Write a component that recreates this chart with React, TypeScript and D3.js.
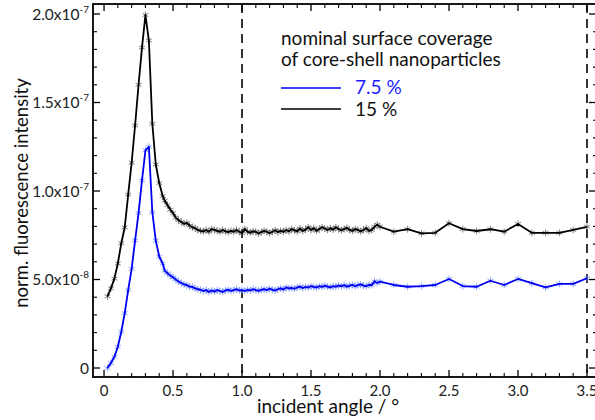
import React from "react";
import * as d3 from "d3";

// incident angles (degrees)
const earlyAngles = [0.025, 0.05, 0.075, 0.1, 0.125, 0.15, 0.175, 0.2, 0.225, 0.25, 0.275, 0.3, 0.325, 0.35, 0.375, 0.4, 0.425];
const denseAngles = [
  0.44, 0.46, 0.48, 0.5, 0.52, 0.54, 0.56, 0.58, 0.6, 0.62, 0.64, 0.66, 0.68, 0.7, 0.72, 0.74, 0.76, 0.78, 0.8, 0.82,
  0.84, 0.86, 0.88, 0.9, 0.92, 0.94, 0.96, 0.98, 1.0, 1.02, 1.04, 1.06, 1.08, 1.1, 1.12, 1.14, 1.16, 1.18, 1.2, 1.22,
  1.24, 1.26, 1.28, 1.3, 1.32, 1.34, 1.36, 1.38, 1.4, 1.42, 1.44, 1.46, 1.48, 1.5, 1.52, 1.54, 1.56, 1.58, 1.6, 1.62,
  1.64, 1.66, 1.68, 1.7, 1.72, 1.74, 1.76, 1.78, 1.8, 1.82, 1.84, 1.86, 1.88, 1.9, 1.92, 1.94, 1.96, 1.98,
];
const sparseAngles = [2.0, 2.1, 2.2, 2.3, 2.4, 2.5, 2.6, 2.7, 2.8, 2.9, 3.0, 3.1, 3.2, 3.3, 3.4, 3.5];

// intensities in units of 1e-8
const black15Early = [4.05, 4.5, 5.05, 5.9, 7.05, 7.95, 9.8, 11.6, 13.7, 16.0, 18.1, 19.95, 18.5, 13.8, 11.5, 10.45, 9.72];
const black15Dense = [
  9.45, 9.2, 8.95, 8.75, 8.5, 8.35, 8.25, 8.15, 8.2, 8.05, 7.95, 7.9, 7.8, 7.75, 7.72, 7.8, 7.7, 7.85, 7.8, 7.75,
  7.7, 7.8, 7.72, 7.68, 7.75, 7.7, 7.8, 7.7, 7.62, 7.85, 7.7, 7.65, 7.72, 7.7, 7.6, 7.68, 7.75, 7.7, 7.62, 7.7,
  7.78, 7.68, 7.75, 7.7, 7.8, 7.72, 7.85, 7.78, 7.72, 7.88, 7.75, 7.82, 7.95, 7.8, 7.9, 7.75, 7.85, 7.95, 7.88, 7.8,
  7.9, 7.82, 7.95, 7.85, 7.78, 7.85, 7.92, 7.8, 7.75, 7.85, 7.8, 7.72, 7.8, 7.9, 7.75, 7.8, 7.98, 8.1,
];
const black15Sparse = [7.98, 7.7, 7.84, 7.61, 7.64, 8.18, 7.85, 7.74, 7.84, 7.7, 8.14, 7.64, 7.64, 7.64, 7.8, 7.98];

const blue75Early = [0.0, 0.28, 0.64, 1.2, 2.05, 3.1, 4.4, 5.6, 7.2, 8.75, 10.6, 12.3, 12.5, 8.8, 7.2, 6.3, 5.9];
const blue75Dense = [
  5.5, 5.35, 5.22, 5.12, 5.0, 4.88, 4.8, 4.72, 4.68, 4.6, 4.58, 4.5, 4.45, 4.42, 4.35, 4.4, 4.3, 4.38, 4.32, 4.4,
  4.35, 4.3, 4.38, 4.42, 4.36, 4.4, 4.45, 4.38, 4.4, 4.35, 4.42, 4.38, 4.45, 4.4, 4.36, 4.42, 4.45, 4.4, 4.48, 4.42,
  4.38, 4.45, 4.5, 4.44, 4.55, 4.5, 4.52, 4.48, 4.55, 4.6, 4.52, 4.58, 4.55, 4.62, 4.58, 4.55, 4.62, 4.58, 4.65, 4.6,
  4.56, 4.62, 4.6, 4.66, 4.62, 4.68, 4.6, 4.65, 4.7, 4.62, 4.68, 4.72, 4.66, 4.62, 4.7, 4.68, 4.9, 4.8,
];
const blue75Sparse = [4.88, 4.69, 4.59, 4.63, 4.69, 5.03, 4.63, 4.59, 4.93, 4.69, 5.03, 4.79, 4.56, 4.75, 4.75, 5.07];

const xMajorTicks = [0, 0.5, 1.0, 1.5, 2.0, 2.5, 3.0, 3.5];
const xTickLabels = ["0", "0.5", "1.0", "1.5", "2.0", "2.5", "3.0", "3.5"];
const xMinorTicks = [0.1, 0.2, 0.3, 0.4, 0.6, 0.7, 0.8, 0.9, 1.1, 1.2, 1.3, 1.4, 1.6, 1.7, 1.8, 1.9, 2.1, 2.2, 2.3, 2.4, 2.6, 2.7, 2.8, 2.9, 3.1, 3.2, 3.3, 3.4];
const yMajorTicks = [0, 5, 10, 15, 20];
const yTickMantissa = ["0", "5.0", "1.0", "1.5", "2.0"];
const yTickExponent = ["", "-8", "-7", "-7", "-7"];
const yMinorTicks = [1, 2, 3, 4, 6, 7, 8, 9, 11, 12, 13, 14, 16, 17, 18, 19];
const dashedAngles = [1.0, 3.5];

const legendTitle = ["nominal surface coverage", "of core-shell nanoparticles"];
const seriesNames = ["7.5 %", "15 %"];

const W = 595;
const H = 420;
const L = 93, R = 597, T = 4, B = 377;
const FONT = "Lato, 'Open Sans', sans-serif";

function zip(xs: number[], ys: number[]): [number, number][] {
  return xs.map((x, i) => [x, ys[i]]);
}

export default function App() {
  const x = d3.scaleLinear().domain([-0.08, 3.5725]).range([L, R]);
  const y = d3.scaleLinear().domain([-0.508, 20.565]).range([B, T]);

  const angles = [...earlyAngles, ...denseAngles, ...sparseAngles];
  const black = zip(angles, [...black15Early, ...black15Dense, ...black15Sparse]);
  const blue = zip(angles, [...blue75Early, ...blue75Dense, ...blue75Sparse]);

  const line = d3.line<[number, number]>().x((d) => x(d[0])).y((d) => y(d[1]));

  const star = (cx: number, cy: number, r: number) => {
    const a = r * 0.866, b = r * 0.5;
    return `M${cx},${cy - r}L${cx},${cy + r}M${cx - a},${cy - b}L${cx + a},${cy + b}M${cx - a},${cy + b}L${cx + a},${cy - b}`;
  };
  const markers = (data: [number, number][]) =>
    data.map((d) => star(x(d[0]), y(d[1]), 3.4)).join("");

  return (
    <svg width={W} height={H} style={{ position: "absolute", left: 0, top: 0, background: "#fff" }} fontFamily={FONT}>
      <defs>
        <clipPath id="plot">
          <rect x={L} y={T} width={R - L} height={B - T} />
        </clipPath>
      </defs>

      {/* dashed verticals */}
      {dashedAngles.map((a, i) => (
        <line key={i} x1={x(a)} x2={x(a)} y1={T} y2={B} stroke="#000" strokeWidth={1.6} strokeDasharray="9,6" />
      ))}

      <g clipPath="url(#plot)">
        <path d={markers(black)} stroke="#555" strokeWidth={0.75} fill="none" />
        <path d={line(black) || ""} stroke="#000" strokeWidth={1.8} fill="none" strokeLinejoin="round" />
        <path d={markers(blue)} stroke="#6a84ff" strokeWidth={0.75} fill="none" />
        <path d={line(blue) || ""} stroke="#0000f0" strokeWidth={1.8} fill="none" strokeLinejoin="round" />
      </g>

      {/* frame */}
      <rect x={L} y={T} width={R - L} height={B - T} fill="none" stroke="#000" strokeWidth={1.8} />

      {/* x ticks (bottom & top, inward) */}
      {xMajorTicks.map((t, i) => (
        <g key={"xm" + i}>
          <line x1={x(t)} x2={x(t)} y1={B} y2={B - 7} stroke="#000" strokeWidth={1.3} />
          <line x1={x(t)} x2={x(t)} y1={T} y2={T + 7} stroke="#000" strokeWidth={1.3} />
          <text x={x(t)} y={396} fontSize={15} textAnchor="middle" fill="#222">{xTickLabels[i]}</text>
        </g>
      ))}
      {xMinorTicks.map((t, i) => (
        <g key={"xn" + i}>
          <line x1={x(t)} x2={x(t)} y1={B} y2={B - 4} stroke="#000" strokeWidth={1.1} />
          <line x1={x(t)} x2={x(t)} y1={T} y2={T + 4} stroke="#000" strokeWidth={1.1} />
        </g>
      ))}

      {/* y ticks (left & right, inward) */}
      {yMajorTicks.map((t, i) => (
        <g key={"ym" + i}>
          <line x1={L} x2={L + 7} y1={y(t)} y2={y(t)} stroke="#000" strokeWidth={1.3} />
          <line x1={R} x2={R - 8} y1={y(t)} y2={y(t)} stroke="#000" strokeWidth={1.3} />
          <text x={89} y={y(t) + 5.5} fontSize={15.5} textAnchor="end" fill="#222">
            {yTickMantissa[i]}
            {yTickExponent[i] ? "x10" : ""}
            {yTickExponent[i] ? (
              <tspan fontSize={10} dy={-7}>{yTickExponent[i]}</tspan>
            ) : null}
          </text>
        </g>
      ))}
      {yMinorTicks.map((t, i) => (
        <g key={"yn" + i}>
          <line x1={L} x2={L + 4} y1={y(t)} y2={y(t)} stroke="#000" strokeWidth={1.1} />
          <line x1={R} x2={R - 4} y1={y(t)} y2={y(t)} stroke="#000" strokeWidth={1.1} />
        </g>
      ))}

      {/* axis titles */}
      <text x={328} y={413} fontSize={19} textAnchor="middle" fill="#111">incident angle / °</text>
      <text transform="translate(28,193) rotate(-90)" fontSize={18.5} textAnchor="middle" fill="#111">
        norm. fluorescence intensity
      </text>

      {/* legend */}
      <text x={281} y={45} fontSize={19} fill="#111">{legendTitle[0]}</text>
      <text x={281} y={66} fontSize={19} fill="#111">{legendTitle[1]}</text>
      <line x1={281} x2={341} y1={88} y2={88} stroke="#0000f0" strokeWidth={1.6} />
      <text x={355} y={94} fontSize={19} fill="#1a1aff">{seriesNames[0]}</text>
      <line x1={281} x2={341} y1={109} y2={109} stroke="#000" strokeWidth={1.6} />
      <text x={355} y={116} fontSize={19} fill="#111">{seriesNames[1]}</text>
    </svg>
  );
}
